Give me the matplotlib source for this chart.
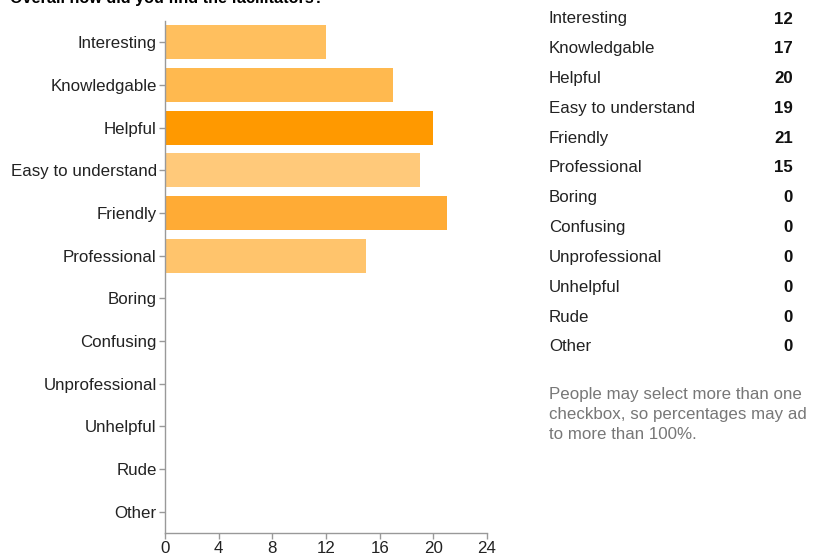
import matplotlib
matplotlib.use("Agg")
import matplotlib.pyplot as plt

categories = ["Interesting", "Knowledgable", "Helpful", "Easy to understand", "Friendly",
              "Professional", "Boring", "Confusing", "Unprofessional", "Unhelpful", "Rude", "Other"]
counts = [12, 17, 20, 19, 21, 15, 0, 0, 0, 0, 0, 0]
bar_colors = ["#FFBF5E", "#FFB94F", "#FF9900", "#FFC97A", "#FFAB35", "#FFC46C",
              "#FFC46C", "#FFC46C", "#FFC46C", "#FFC46C", "#FFC46C", "#FFC46C"]
xticks = [0, 4, 8, 12, 16, 20, 24]
title = "Overall how did you find the facilitators?"
note = "People may select more than one\ncheckbox, so percentages may ad\nto more than 100%."

plt.rcParams['font.family'] = ['Liberation Sans', 'DejaVu Sans']

W, H = 814, 555
fig = plt.figure(figsize=(W / 100, H / 100), dpi=100)
ax = fig.add_axes([165 / W, 1 - 533 / H, (487 - 165) / W, (533 - 21) / H])

ypos = list(range(len(categories)))
ax.barh(ypos, counts, height=0.8, color=bar_colors, edgecolor="none")
ax.set_ylim(len(categories) - 0.5, -0.5)
ax.set_xlim(0, 24)
ax.set_yticks(ypos)
ax.set_yticklabels(categories, fontsize=12.2, color="#222222")
ax.set_xticks(xticks)
ax.set_xticklabels([str(t) for t in xticks], fontsize=12.2, color="#222222")
for s in ["top", "right"]:
    ax.spines[s].set_visible(False)
for s in ["left", "bottom"]:
    ax.spines[s].set_color("#999999")
    ax.spines[s].set_linewidth(1)
ax.tick_params(axis="both", colors="#999999", length=4, width=1, labelcolor="#222222")
ax.tick_params(axis="x", pad=1.5)
ax.tick_params(axis="y", pad=2)

fig.text(10 / W, 1 - (-1) / H, title, fontsize=11.7, fontweight="bold", color="#000000",
         ha="left", va="center")

row_y0 = 19
row_dy = 29.8
for i, (c, v) in enumerate(zip(categories, counts)):
    y = 1 - (row_y0 + i * row_dy) / H
    fig.text(549 / W, y, c, fontsize=12.2, color="#222222", ha="left", va="center")
    fig.text(793 / W, y, str(v), fontsize=12.2, color="#111111", ha="right", va="center",
             fontweight="bold")

fig.text(549 / W, 1 - 387 / H, note, fontsize=12.2, color="#777777", ha="left", va="top",
         linespacing=1.42)

fig.savefig("out.png", dpi=100)
